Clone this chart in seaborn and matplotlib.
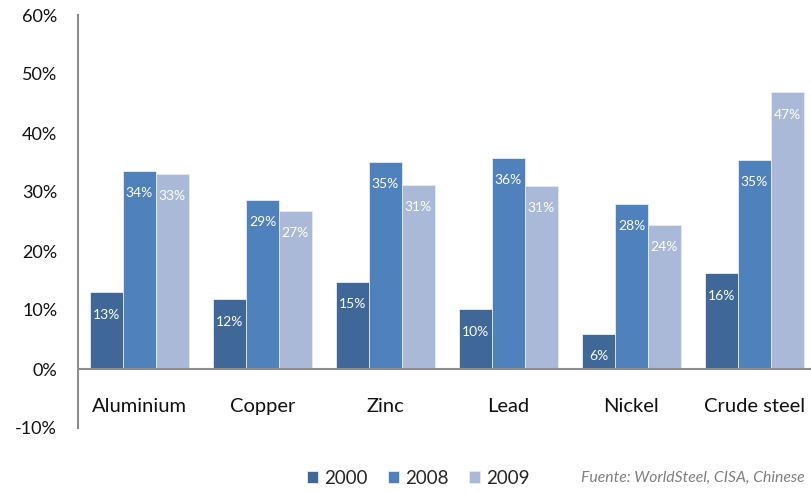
import matplotlib
matplotlib.use("Agg")
import matplotlib.pyplot as plt
import seaborn as sns
import pandas as pd

metals = ["Aluminium", "Copper", "Zinc", "Lead", "Nickel", "Crude steel"]
years = ["2000", "2008", "2009"]
share_2000 = [13.0, 11.8, 14.8, 10.1, 5.9, 16.2]
share_2008 = [33.6, 28.6, 35.1, 35.8, 28.0, 35.4]
share_2009 = [33.1, 26.8, 31.2, 31.1, 24.4, 46.9]
colors = ["#3F6899", "#4F81BD", "#AAB9D7"]
y_ticks = [-10, 0, 10, 20, 30, 40, 50, 60]
source_note = "Fuente: WorldSteel, CISA, Chinese"

rows = []
for yr, vals in zip(years, [share_2000, share_2008, share_2009]):
    for m, v in zip(metals, vals):
        rows.append({"metal": m, "year": yr, "share": v})
df = pd.DataFrame(rows)

sns.set_style("white")
plt.rcParams["font.family"] = ["Lato", "DejaVu Sans"]

fig = plt.figure(figsize=(8.11, 4.93), dpi=100)
W, H = 811, 493
ax = fig.add_axes([78 / W, (H - 428) / H, (816 - 78) / W, 413 / H])

sns.barplot(data=df, x="metal", y="share", hue="year", order=metals,
            hue_order=years, palette=colors, saturation=1, width=0.8,
            edgecolor="#E6ECF5", linewidth=0.6, ax=ax, legend=True)

ax.set_xlim(-0.5, 5.5)
ax.set_ylim(-10, 60)
ax.set_yticks(y_ticks)
ax.set_yticklabels([f"{t}%" for t in y_ticks], fontsize=13, color="#111111")
ax.tick_params(axis="y", length=0, pad=15)
ax.set_xticks([])
ax.set_xlabel("")
ax.set_ylabel("")

for s in ["top", "right", "bottom"]:
    ax.spines[s].set_visible(False)
ax.spines["left"].set_color("#8c8c8c")
ax.spines["left"].set_linewidth(1.5)
ax.axhline(0, color="#8c8c8c", lw=1.5, zorder=3)

# value labels inside the top of each bar
for container in ax.containers:
    for bar in container:
        v = bar.get_height()
        ax.annotate(f"{v:.0f}%", (bar.get_x() + bar.get_width() / 2, v),
                    xytext=(0, -16), textcoords="offset points",
                    ha="center", va="center", color="white", fontsize=10)

# category names sit between 0% and -10%
for i, m in enumerate(metals):
    ax.text(i, -6.4, m, ha="center", va="center", fontsize=14.5, color="#111111")

handles, labels = ax.get_legend_handles_labels()
ax.get_legend().remove()
fig.legend(handles, labels, loc="center", bbox_to_anchor=(418 / W, 1 - 478 / H),
           ncol=3, frameon=False, fontsize=13.5, handlelength=0.6,
           handleheight=0.6, handletextpad=0.3, columnspacing=1.1)

fig.text(805 / W, 1 - 478 / H, source_note, ha="right", va="center",
         fontsize=11.3, style="italic", color="#7f7f7f")

fig.savefig("out.png", dpi=100)
